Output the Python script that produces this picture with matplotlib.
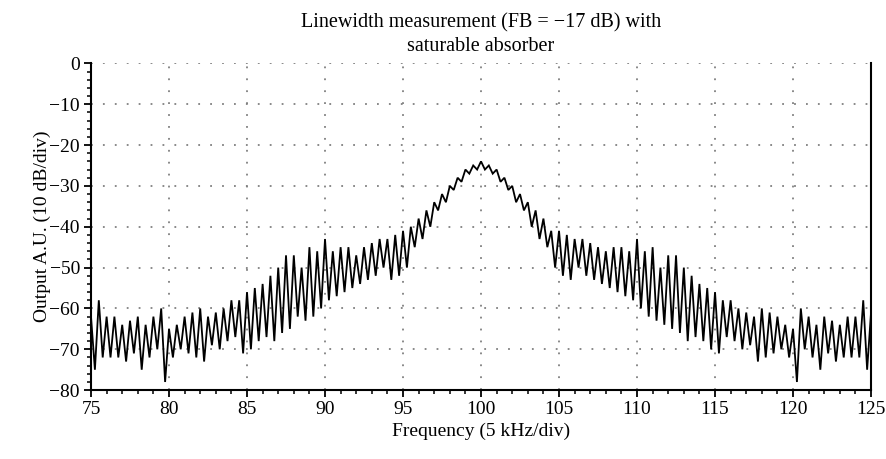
import matplotlib
matplotlib.use("Agg")
import matplotlib.pyplot as plt
import numpy as np
from matplotlib.ticker import MultipleLocator

plt.rcParams['font.family'] = ['Liberation Serif', 'DejaVu Serif']
plt.rcParams['axes.unicode_minus'] = True

freq_start = 75.0
freq_step = 0.25
level_db = [
    -62, -75, -58, -72, -62, -72, -62, -72, -64, -73,
    -63, -71, -62, -75, -64, -72, -62, -70, -60, -78,
    -65, -72, -64, -70, -62, -71, -61, -72, -60, -73,
    -62, -69, -61, -70, -60, -68, -58, -67, -58, -71,
    -56, -70, -55, -68, -54, -67, -52, -68, -50, -66,
    -47, -65, -47, -62, -50, -63, -45, -62, -46, -60,
    -43, -58, -46, -57, -45, -56, -45, -55, -47, -54,
    -45, -53, -44, -52, -43, -50, -43, -53, -42, -52,
    -41, -50, -40, -45, -38, -43, -36, -40, -34, -36,
    -32, -34, -30, -31, -28, -29, -26, -27, -25, -26,
    -24, -26, -25, -27, -26, -29, -28, -31, -30, -34,
    -32, -36, -34, -40, -36, -43, -38, -45, -41, -50,
    -41, -52, -42, -53, -43, -50, -43, -52, -44, -53,
    -45, -54, -46, -55, -45, -56, -45, -57, -46, -58,
    -43, -60, -46, -62, -45, -63, -50, -64, -47, -65,
    -47, -66, -50, -68, -52, -67, -54, -68, -55, -70,
    -56, -71, -58, -67, -58, -68, -60, -70, -61, -69,
    -62, -73, -60, -72, -61, -71, -62, -70, -64, -72,
    -65, -78, -60, -70, -62, -72, -64, -75, -62, -71,
    -63, -73, -64, -72, -62, -72, -62, -72, -58, -75,
    -61,
]
freq = freq_start + freq_step * np.arange(len(level_db))

x_ticks = [75, 80, 85, 90, 95, 100, 105, 110, 115, 120, 125]
y_ticks = [0, -10, -20, -30, -40, -50, -60, -70, -80]

title = "Linewidth measurement (FB = \u221217 dB) with\nsaturable absorber"
xlabel = "Frequency (5 kHz/div)"
ylabel = "Output A.U. (10 dB/div)"

fig = plt.figure(figsize=(8.87, 4.59), dpi=100)
ax = fig.add_axes([0.1026, 0.150, 0.8794, 0.712])

ax.plot(freq, level_db, color='black', lw=1.3, solid_joinstyle='miter')

ax.set_xlim(75, 125)
ax.set_ylim(-80, 0)
ax.set_xticks(x_ticks)
ax.set_yticks(y_ticks)
ax.set_yticklabels([("\u2212%d" % -v) if v < 0 else "0" for v in y_ticks])
ax.xaxis.set_minor_locator(MultipleLocator(1))
ax.yaxis.set_minor_locator(MultipleLocator(2))
ax.tick_params(axis='both', which='major', direction='out', length=5, width=1.3,
               labelsize=14, colors='black')
ax.tick_params(axis='both', which='minor', direction='out', length=3, width=1.1)
ax.tick_params(axis='x', pad=3)
ax.tick_params(axis='y', pad=3)

ax.grid(True, which='major', color='#808080', linestyle=(0, (1.0, 5.6)), lw=1.3)

for s in ['left', 'bottom', 'right']:
    ax.spines[s].set_linewidth(1.5)
ax.spines['top'].set_visible(False)

ax.set_title(title, fontsize=14.5, linespacing=1.3, pad=9)
ax.set_xlabel(xlabel, fontsize=14, labelpad=3)
ax.set_ylabel(ylabel, fontsize=14, labelpad=-1)

fig.savefig("out.png", dpi=100)
